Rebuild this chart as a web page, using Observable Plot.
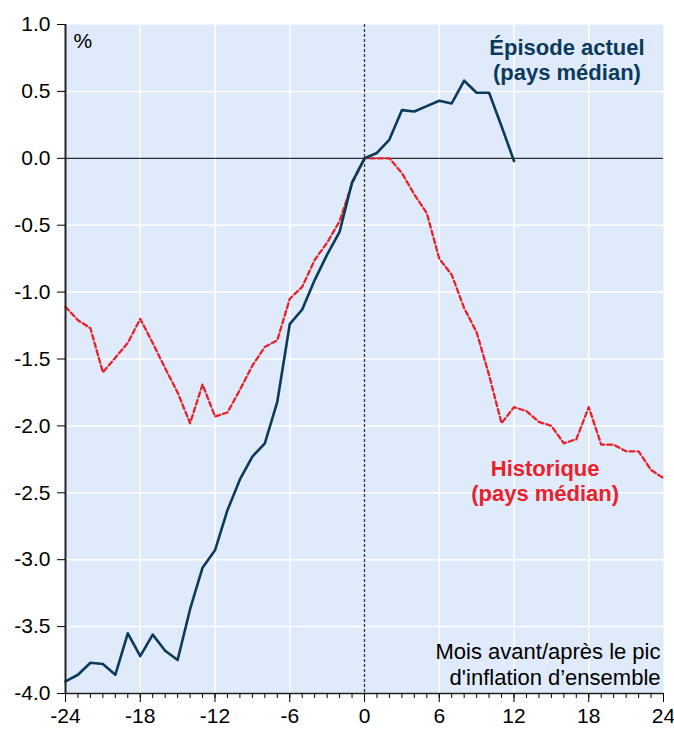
<!DOCTYPE html>
<html>
<head>
<meta charset="utf-8">
<script src="https://cdn.jsdelivr.net/npm/d3@7"></script>
<script src="https://cdn.jsdelivr.net/npm/@observablehq/plot@0.6"></script>
<style>
  html, body { margin: 0; padding: 0; background: #fff; }
  #chart svg { display: block; }
</style>
</head>
<body>
<div id="chart"></div>
<script>
const monthsCurrent = d3.range(-24, 13);
const valuesCurrent = [
  -3.91, -3.86, -3.77, -3.78, -3.86, -3.55, -3.72, -3.56, -3.68, -3.75,
  -3.37, -3.06, -2.93, -2.63, -2.40, -2.23, -2.13, -1.82, -1.24, -1.13,
  -0.91, -0.72, -0.55, -0.18, 0.00, 0.04, 0.14, 0.36, 0.35, 0.39,
  0.43, 0.41, 0.58, 0.49, 0.49, 0.24, -0.02
];
const monthsHist = d3.range(-24, 25);
const valuesHist = [
  -1.11, -1.21, -1.27, -1.60, -1.49, -1.38, -1.20, -1.38, -1.57, -1.75,
  -1.98, -1.69, -1.93, -1.90, -1.73, -1.55, -1.41, -1.36, -1.05, -0.96,
  -0.76, -0.63, -0.47, -0.19, 0.00, 0.00, 0.00, -0.11, -0.27, -0.41,
  -0.75, -0.87, -1.12, -1.30, -1.62, -1.98, -1.86, -1.89, -1.97, -2.00,
  -2.13, -2.10, -1.86, -2.14, -2.14, -2.19, -2.19, -2.33, -2.39
];
const xTicks = [-24, -18, -12, -6, 0, 6, 12, 18, 24];
const xMinorTicks = d3.range(-24, 25);
const yTicks = [-4, -3.5, -3, -2.5, -2, -1.5, -1, -0.5, 0, 0.5, 1];
const labelCurrent = ["Épisode actuel", "(pays médian)"];
const labelHist = ["Historique", "(pays médian)"];
const labelAxis = ["Mois avant/après le pic", "d'inflation d’ensemble"];
const unitLabel = "%";

const current = monthsCurrent.map((m, i) => ({month: m, value: valuesCurrent[i]}));
const hist = monthsHist.map((m, i) => ({month: m, value: valuesHist[i]}));

const navy = "#0b3a5a";
const red = "#e8212b";
const font = "'Liberation Sans', Arial, sans-serif";

const chart = Plot.plot({
  width: 674,
  height: 732,
  marginTop: 24,
  marginLeft: 65,
  marginRight: 11,
  marginBottom: 39,
  style: {fontFamily: font, fontSize: "21px", color: "#000", background: "#fff"},
  x: {domain: [-24, 24]},
  y: {domain: [-4, 1]},
  marks: [
    Plot.frame({fill: "#dfeafb", stroke: null}),
    Plot.gridX(xTicks.filter(d => d !== -24 && d !== 24 && d !== 0), {stroke: "#fff", strokeOpacity: 1, strokeWidth: 1.5}),
    Plot.gridY(yTicks.filter(d => d !== -4 && d !== 1 && d !== 0), {stroke: "#fff", strokeOpacity: 1, strokeWidth: 1.5}),
    Plot.ruleY([0], {stroke: "#000", strokeWidth: 1}),
    Plot.ruleX([0], {stroke: "#333", strokeWidth: 1.3, strokeDasharray: "3,2"}),
    Plot.line(hist, {x: "month", y: "value", stroke: red, strokeWidth: 2.3, strokeDasharray: "5,3"}),
    Plot.line(current, {x: "month", y: "value", stroke: navy, strokeWidth: 2.6}),
    Plot.ruleX([-24], {stroke: "#222", strokeWidth: 2}),
    Plot.ruleY([-4], {stroke: "#222", strokeWidth: 1.5}),
    Plot.axisY(yTicks, {tickSize: 8, tickPadding: 7, tickFormat: d => d.toFixed(1), fontSize: 21, label: null, stroke: "#000"}),
    Plot.axisX(xTicks, {tickSize: 9, tickPadding: 6, tickFormat: d => String(d), fontSize: 21, label: null, stroke: "#000"}),
    Plot.axisX(xMinorTicks, {tickSize: 5, tickFormat: null, text: null, label: null, stroke: "#000"}),
    Plot.text([unitLabel], {x: -24, y: 1, dx: 8, dy: 17, textAnchor: "start", fontSize: 21, fill: "#000"}),
    Plot.text([labelCurrent.join("\n")], {x: 16.25, y: 0.905, textAnchor: "middle", lineAnchor: "top", lineHeight: 1.14, fontSize: 22, fontWeight: "bold", fill: navy}),
    Plot.text([labelHist.join("\n")], {x: 14.5, y: -2.238, textAnchor: "middle", lineAnchor: "top", lineHeight: 1.14, fontSize: 22, fontWeight: "bold", fill: red}),
    Plot.text([labelAxis.join("\n")], {x: 24, y: -3.60, dx: -3, textAnchor: "end", lineAnchor: "top", lineHeight: 1.2, fontSize: 22, fill: "#000"})
  ]
});
document.getElementById("chart").appendChild(chart);
</script>
</body>
</html>
